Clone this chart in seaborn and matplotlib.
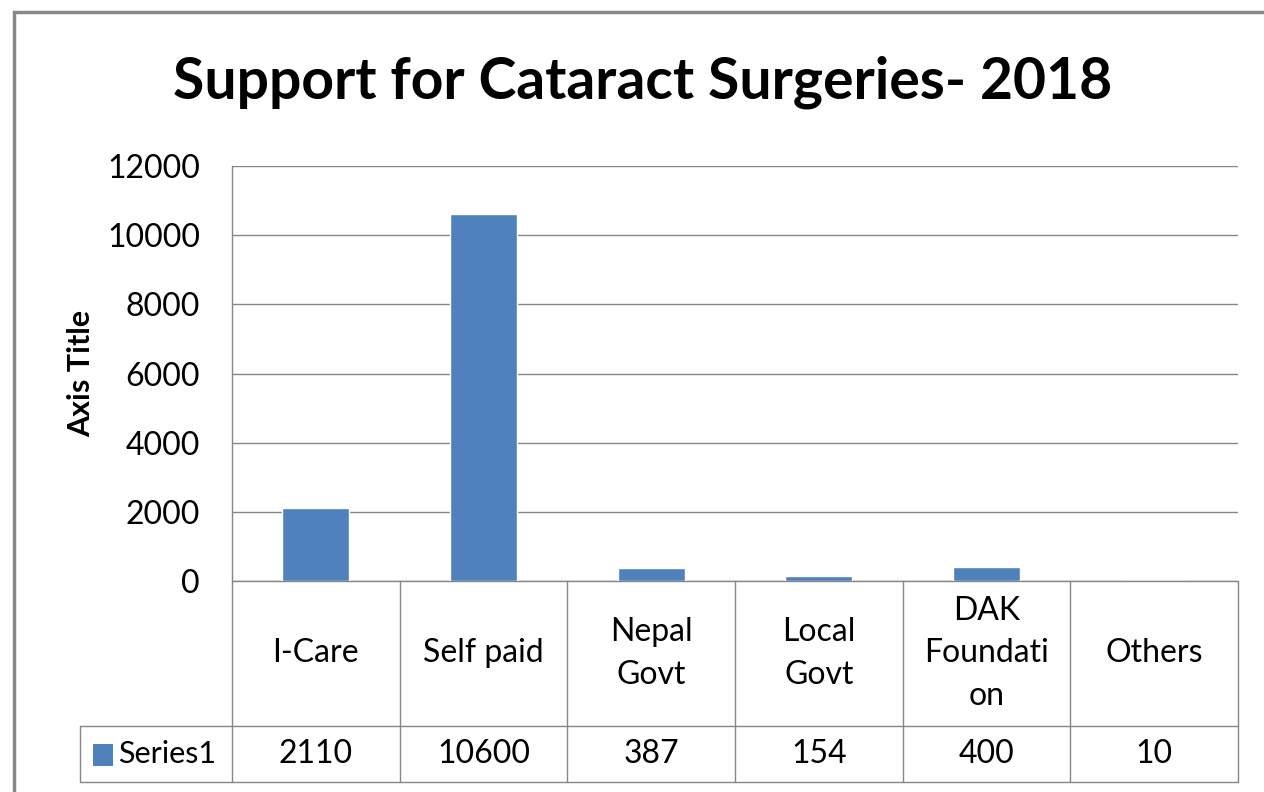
import numpy as np
import matplotlib
matplotlib.use("Agg")
from matplotlib import pyplot as plt
from matplotlib.patches import Rectangle
import seaborn as sns

# Chart data
categories = ["I-Care", "Self paid", "Nepal Govt", "Local Govt", "DAK Foundation", "Others"]
cell_labels = ["I-Care", "Self paid", "Nepal\nGovt", "Local\nGovt", "DAK\nFoundati\non", "Others"]
values = [2110, 10600, 387, 154, 400, 10]
series_name = "Series1"
y_ticks = [0, 2000, 4000, 6000, 8000, 10000, 12000]

bar_color = "#4F81BD"
line_color = "#868686"
txt = "#000000"

sns.set_theme(style="white")
plt.rcParams['font.family'] = ['Lato', 'DejaVu Sans']

fig = plt.figure(figsize=(12.64, 7.92), dpi=100)
W, H = 1264, 792
ax = fig.add_axes([232 / W, 1 - 581 / H, (1238 - 232) / W, (581 - 166) / H])

sns.barplot(x=categories, y=values, color=bar_color, width=0.4, saturation=1, ax=ax, zorder=3)

ax.set_xlim(-0.5, len(categories) - 0.5)
ax.set_ylim(0, 12000)
ax.set_yticks(y_ticks)
ax.set_yticklabels([str(t) for t in y_ticks], fontsize=23, color=txt)
ax.tick_params(axis="y", length=0, pad=23)
ax.set_xticks([])
ax.set_xlabel("")
ax.grid(axis="y", color=line_color, linewidth=1, zorder=0)
for side in ["top", "right", "bottom"]:
    ax.spines[side].set_visible(False)
ax.spines["left"].set_color(line_color)
ax.spines["left"].set_linewidth(1)
ax.set_ylabel("Axis Title", fontsize=22, fontweight="bold", color=txt)
ax.yaxis.set_label_coords((95 - 232) / (1238 - 232), 0.5)

fig.suptitle("Support for Cataract Surgeries- 2018", fontsize=41, fontweight="bold", color=txt,
             x=643 / W, y=1 - 82 / H, va="center")

# Data table under the plot
trans = ax.get_xaxis_transform()
ph = 581 - 166
y_mid = -(726 - 581) / ph
y_bot = -(782 - 581) / ph
n = len(categories)
for i in range(n + 1):
    ax.plot([i - 0.5, i - 0.5], [0, y_bot], transform=trans, color=line_color, lw=1, clip_on=False)
x_leg = (80 - 232) / ((1238 - 232) / n) - 0.5
ax.plot([-0.5, n - 0.5], [0, 0], transform=trans, color=line_color, lw=1, clip_on=False)
ax.plot([x_leg, n - 0.5], [y_mid, y_mid], transform=trans, color=line_color, lw=1, clip_on=False)
ax.plot([x_leg, n - 0.5], [y_bot, y_bot], transform=trans, color=line_color, lw=1, clip_on=False)
ax.plot([x_leg, x_leg], [y_mid, y_bot], transform=trans, color=line_color, lw=1, clip_on=False)

for i, (lab, v) in enumerate(zip(cell_labels, values)):
    ax.text(i, y_mid / 2, lab, transform=trans, ha="center", va="center", fontsize=23,
            color=txt, linespacing=1.52)
    ax.text(i, (y_mid + y_bot) / 2, str(v), transform=trans, ha="center", va="center",
            fontsize=23, color=txt)

# legend key in the table
fig.patches.append(Rectangle((93 / W, 1 - 766 / H), 20 / W, 22 / H, transform=fig.transFigure,
                             facecolor=bar_color, edgecolor="none"))
fig.text(118 / W, 1 - 754 / H, series_name, fontsize=22, va="center", ha="left", color=txt)

# outer chart border
fig.patches.append(Rectangle((14 / W, -0.05), 1.2, 1 - 12 / H + 0.05, transform=fig.transFigure,
                             facecolor="none", edgecolor="#888888", lw=2.5))

fig.savefig("out.png", dpi=100)
